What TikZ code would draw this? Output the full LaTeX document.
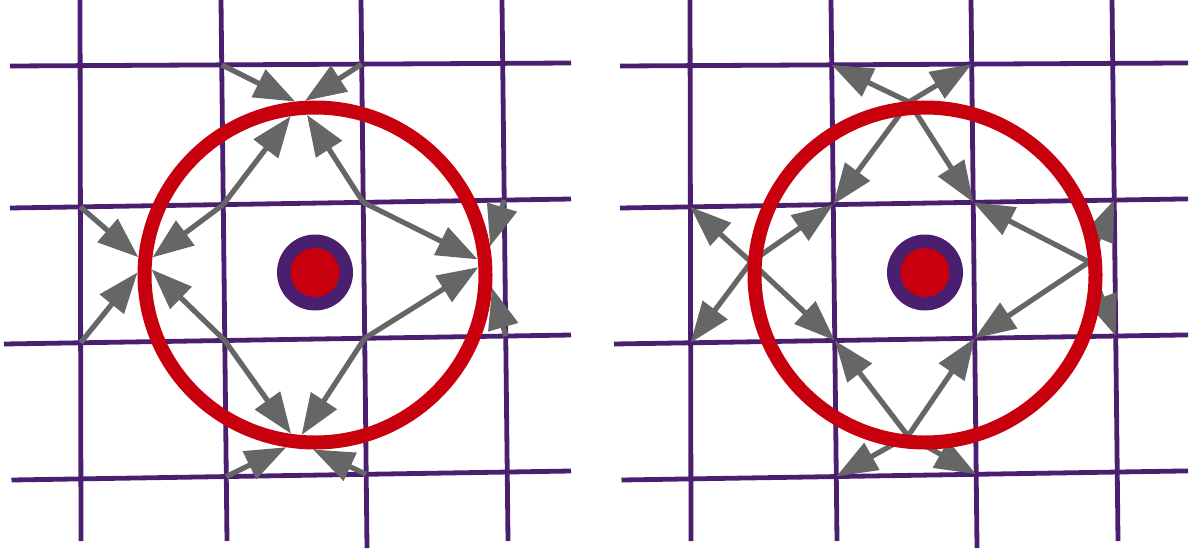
\documentclass[tikz,border=0pt]{standalone}
\usetikzlibrary{arrows.meta,intersections,calc}
\definecolor{gridpurple}{RGB}{75,31,112}
\definecolor{ringred}{RGB}{200,0,14}
\definecolor{arrgray}{RGB}{102,102,102}
\tikzset{
  gridline/.style={draw=gridpurple, line width=2.4pt},
  arr/.style={draw=arrgray, line width=2.6pt, -{Triangle[length=20.5pt,width=15pt]}},
  bigring/.style={draw=ringred, line width=7pt},
}
% arrow from grid node #1 towards boundary point #2, ending where it meets path #3
\newcommand\clipto[3]{%
  \path[name path=tmpln] (#1) -- (#2);
  \draw[arr, name intersections={of=tmpln and #3, by=tmpx}] (#1) -- (tmpx);}
% grid of one panel: #1 prefix, #2 stretch of horizontal lines, #3 x shift
\newcommand\panelgrid[3]{%
  \coordinate (#1v1t) at ({#3+80},0);   \coordinate (#1v1b) at ({#3+81},541);
  \coordinate (#1v2t) at ({#3+221},0);  \coordinate (#1v2b) at ({#3+227},541);
  \coordinate (#1v3t) at ({#3+361},0);  \coordinate (#1v3b) at ({#3+367},548);
  \coordinate (#1v4t) at ({#3+502},0);  \coordinate (#1v4b) at ({#3+508},541);
  \coordinate (#1h1l) at ({#3+10},66);
  \coordinate (#1h1r) at ($({#3+10},66)!#2!({#3+571},63)$);
  \coordinate (#1h2l) at ({#3+10},208);
  \coordinate (#1h2r) at ($({#3+10},208)!#2!({#3+571},199)$);
  \coordinate (#1h3l) at ({#3+4},344);
  \coordinate (#1h3r) at ($({#3+4},344)!#2!({#3+571},335)$);
  \coordinate (#1h4l) at ({#3+11.5},480);
  \coordinate (#1h4r) at ($({#3+11.5},480)!#2!({#3+571},471)$);
  \foreach \v in {1,2,3,4} \draw[gridline] (#1v\v t) -- (#1v\v b);
  \foreach \h in {1,2,3,4} \draw[gridline] (#1h\h l) -- (#1h\h r);
  \foreach \h in {1,2,3,4} {\foreach \v in {1,2,3,4} {
    \coordinate (#1\h\v) at (intersection of #1h\h l--#1h\h r and #1v\v t--#1v\v b);}}
}
\begin{document}
\begin{tikzpicture}[x=0.5pt,y=-0.5pt]
\useasboundingbox (0,0) rectangle (1193,552);
\panelgrid{a}{1}{0}
\panelgrid{b}{1.0125}{610}
% ring centres and central dots
\coordinate (ac) at (315,275);
\coordinate (bc) at (925,275);
\coordinate (adot) at (315,272.5);
\coordinate (bdot) at (925,272.5);
% boundary points
\coordinate (aT) at (300,104);
\coordinate (aL) at (145,263);
\coordinate (aR) at (485,263);
\coordinate (aB) at (297,442);
\coordinate (bT) at (909,102);
\coordinate (bL) at (751,262);
\coordinate (bR) at (1089,262);
\coordinate (bB) at (908,436);
% edges of the ring, used to stop the arrows of the left panel
\path[name path=aout] (ac) ellipse [x radius=88.75pt, y radius=87.25pt];
\path[name path=ain] (ac) ellipse [x radius=81.75pt, y radius=80.25pt];
% left panel: grid nodes -> boundary points
\clipto{a12}{aT}{aout} \clipto{a13}{aT}{aout} \clipto{a22}{aT}{ain} \clipto{a23}{aT}{ain}
\clipto{a21}{aL}{aout} \clipto{a31}{aL}{aout} \clipto{a22}{aL}{ain} \clipto{a32}{aL}{ain}
\clipto{a24}{aR}{aout} \clipto{a34}{aR}{aout} \clipto{a23}{aR}{ain} \clipto{a33}{aR}{ain}
\clipto{a42}{aB}{aout} \clipto{a43}{aB}{aout} \clipto{a32}{aB}{ain} \clipto{a33}{aB}{ain}
% right panel: boundary points -> grid nodes
\foreach \n in {12,13,22,23} \draw[arr] (bT) -- (b\n);
\foreach \n in {21,31,22,32} \draw[arr] (bL) -- (b\n);
\foreach \n in {24,34,23,33} \draw[arr] (bR) -- (b\n);
\foreach \n in {42,43,32,33} \draw[arr] (bB) -- (b\n);
% rings
\draw[bigring] (ac) ellipse [x radius=85.25pt, y radius=83.75pt];
\draw[bigring] (bc) ellipse [x radius=85.25pt, y radius=83.75pt];
% central dots
\fill[gridpurple] (adot) circle [radius=19pt];
\fill[ringred] (adot) circle [radius=12.25pt];
\fill[gridpurple] (bdot) circle [radius=19pt];
\fill[ringred] (bdot) circle [radius=12.25pt];
\end{tikzpicture}
\end{document}
